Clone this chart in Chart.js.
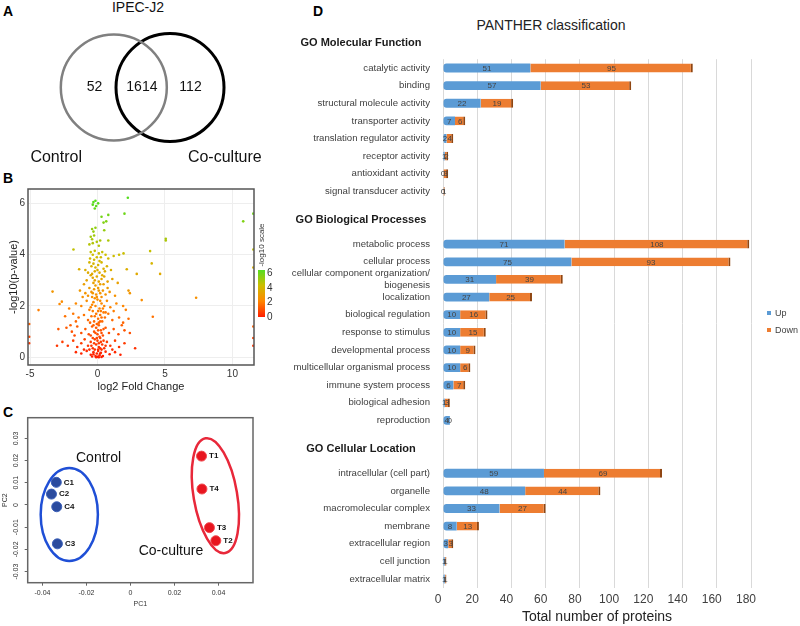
<!DOCTYPE html>
<html><head><meta charset="utf-8">
<script src="https://cdn.jsdelivr.net/npm/chart.js@4.4.1/dist/chart.umd.min.js"></script>
<style>
html,body{margin:0;padding:0;background:#fff;}
body{width:800px;height:626px;position:relative;overflow:hidden;font-family:'Liberation Sans',Arial,Helvetica,sans-serif;}
.abs{position:absolute;}
.letter{position:absolute;font-weight:bold;font-size:14px;color:#000;line-height:14px;}
.txt{position:absolute;white-space:nowrap;}
</style></head><body>

<div class="letter" style="left:3px;top:4px">A</div>
<div class="letter" style="left:3px;top:171px">B</div>
<div class="letter" style="left:3px;top:405px">C</div>
<div class="letter" style="left:313px;top:4px">D</div>

<div class="txt" id="vennTitle" style="left:88px;top:0px;width:100px;text-align:center;font-size:14px;line-height:15px;color:#111"></div>
<div class="txt" id="dTitle" style="left:451px;top:17px;width:200px;text-align:center;font-size:14px;line-height:17px;color:#222"></div>

<div class="abs" style="left:0;top:0;width:290px;height:180px"><canvas id="cA"></canvas></div>
<div class="abs" style="left:0;top:180px;width:290px;height:225px"><canvas id="cB"></canvas></div>
<div class="abs" style="left:0;top:405px;width:290px;height:221px"><canvas id="cC"></canvas></div>
<div class="abs" style="left:290px;top:0;width:510px;height:626px"><canvas id="cD"></canvas></div>

<!-- colour bar of panel B -->
<div class="abs" id="cbar" style="left:258px;top:270px;width:7px;height:47px"></div>
<div class="txt" id="cbarTicks" style="left:267px;top:266px;font-size:10px;line-height:14.5px;color:#333"></div>
<div class="txt" id="cbarTitle" style="left:232px;top:240px;width:60px;text-align:center;font-size:8px;line-height:10px;color:#333;transform:rotate(-90deg)"></div>

<!-- legend of panel D -->
<div class="txt" id="dLegend" style="left:767px;top:304.5px;font-size:9px;line-height:17px;color:#404040"></div>

<script>
// ---------------- DATA ----------------
// Panel A: Venn
const vennTitle = 'IPEC-J2';
const vennSets = ['Control', 'Co-culture'];
const vennCounts = [52, 1614, 112]; // control only, shared, co-culture only

// Panel B: volcano plot  [log2 fold change, -log10(p-value)]
const volcanoPoints = [
 [-0.3,6.05],[-0.15,6.1],[-0.35,5.95],[-0.1,5.9],[0.05,6.0],[-0.2,5.8],[2.25,6.22],
 [0.3,5.48],[0.8,5.55],[0.65,5.3],[0.45,5.25],[2.0,5.6],[-0.4,5.0],[-0.3,4.9],[-0.15,5.05],[0.5,4.95],[10.8,5.3],
 [-0.5,4.7],[-0.4,4.6],[-0.25,4.75],[-0.35,4.45],[0.2,4.55],[0.8,4.55],[-0.6,4.4],[5.06,4.62],[5.06,4.55],[0.1,4.35],[-0.05,4.5],
 [-1.78,4.2],[-0.5,4.1],[-0.35,4.0],[-0.2,4.15],[0.1,4.05],[0.35,4.1],[0.6,4.0],[1.2,3.95],[1.93,4.05],[3.9,4.14],[-0.55,3.85],[0.25,3.9],[0.8,3.85],[1.6,4.0],
 [-0.6,3.7],[-0.45,3.55],[-0.3,3.65],[-0.15,3.5],[0.05,3.6],[0.3,3.7],[0.45,3.45],[0.7,3.55],[1.0,3.4],[-0.9,3.4],[-1.36,3.43],[2.17,3.43],[4.02,3.66],[-0.2,3.35],[0.15,3.3],[0.55,3.35],[-0.7,3.3],
 [2.91,3.25],[4.64,3.25],[-0.5,3.2],[-0.35,3.1],[-0.2,3.0],[-0.05,3.15],[0.1,2.95],[0.3,3.05],[0.5,3.15],[0.75,2.95],[1.1,3.05],[-0.8,3.0],[-1.0,2.85],[0.2,2.85],[-0.3,2.9],[1.5,2.9],
 [-3.33,2.56],[-1.3,2.6],[-0.9,2.5],[-0.6,2.7],[-0.45,2.55],[-0.25,2.65],[-0.1,2.45],[0.05,2.7],[0.2,2.5],[0.4,2.6],[0.6,2.45],[0.9,2.55],[1.3,2.4],[2.3,2.6],[2.4,2.5],[-0.4,2.35],[0.3,2.35],[-1.1,2.35],[3.28,2.23],[7.31,2.32],[-0.7,2.4],[0.75,2.7],
 [-2.64,2.17],[-2.81,2.08],[-4.37,1.84],[-1.6,2.1],[-1.2,2.0],[-0.8,2.2],[-0.5,1.95],[-0.3,2.15],[-0.15,2.0],[0.0,2.25],[0.15,1.9],[0.3,2.1],[0.5,2.0],[0.7,2.2],[0.95,1.95],[1.4,2.1],[1.9,2.0],[2.1,1.85],[-0.6,1.85],[0.25,1.8],[-2.1,1.9],[1.2,1.8],
 [-2.4,1.6],[-1.8,1.7],[-1.4,1.55],[-1.0,1.65],[-0.7,1.45],[-0.45,1.6],[-0.25,1.4],[-0.1,1.7],[0.05,1.5],[0.2,1.65],[0.35,1.4],[0.55,1.55],[0.8,1.7],[1.1,1.45],[1.6,1.55],[2.3,1.5],[4.1,1.58],[-0.55,1.35],[0.1,1.35],[0.45,1.75],[-1.6,1.4],[1.9,1.35],
 [-2.9,1.1],[-2.3,1.15],[-1.9,1.0],[-1.5,1.2],[-1.2,0.95],[-0.9,1.1],[-0.65,0.9],[-0.4,1.2],[-0.25,1.0],[-0.1,1.15],[0.0,0.9],[0.1,1.25],[0.25,1.05],[0.4,0.85],[0.6,1.15],[0.85,0.95],[1.2,1.1],[1.55,0.9],[2.0,1.05],[2.4,0.95],[-0.5,0.85],[0.15,0.8],[-1.7,0.85],[1.8,1.25],[-2.0,1.25],
 [-2.6,0.6],[-2.2,0.45],[-1.8,0.65],[-1.5,0.4],[-1.2,0.55],[-0.95,0.7],[-0.7,0.45],[-0.5,0.6],[-0.35,0.35],[-0.2,0.7],[-0.1,0.5],[0.0,0.65],[0.1,0.4],[0.2,0.75],[0.35,0.5],[0.5,0.35],[0.7,0.6],[0.95,0.45],[1.3,0.65],[1.6,0.4],[2.0,0.55],[2.79,0.35],[-0.6,0.3],[0.3,0.3],[1.1,0.3],[-1.0,0.3],[-3.0,0.45],
 [-1.6,0.2],[-1.2,0.15],[-0.8,0.25],[-0.5,0.1],[-0.3,0.2],[-0.15,0.05],[-0.05,0.15],[0.0,0.02],[0.05,0.25],[0.15,0.08],[0.25,0.18],[0.4,0.05],[0.6,0.22],[0.9,0.12],[1.3,0.2],[1.7,0.1],[-0.1,0.0],[0.1,0.0],[-0.4,0.03],[0.3,0.01],
 [-0.05,3.9],[-0.25,3.8],[0.15,3.75],[-0.4,3.25],[0.0,3.4],[0.35,3.2],[-0.15,2.8],[0.1,2.6],[-0.35,2.5],[0.45,2.85],[-0.05,2.35],[0.2,2.2],[-0.2,2.3],[-0.4,2.05],[0.4,1.9],[0.05,1.8],[-0.2,1.6],[0.3,1.55],[-0.35,1.8],[0.6,1.75],
 [-0.05,1.3],[0.2,1.4],[-0.3,1.25],[0.45,1.1],[-0.15,0.95],[0.3,0.95],[0.05,1.05],[-0.35,0.75],[0.45,0.65],[-0.05,0.75],[0.25,0.6],[-0.25,0.55],[0.1,0.55],[-0.45,0.45],[0.6,0.45],[0.05,0.3],[-0.2,0.3],[0.2,0.35],[-0.3,0.12],[0.2,0.15],
 [-5.06,1.3],[-5.06,0.8],[-5.06,0.55],[11.55,5.6],[11.55,4.2],[11.55,3.5],[11.55,1.2],[11.55,0.75],[11.55,0.45]
];
const volcanoXTicks = [-5, 0, 5, 10];
const volcanoYTicks = [0, 2, 4, 6];
const colorScaleTicks = [6, 4, 2, 0];

// Panel C: PCA
const controlSamples = ['C1', 'C2', 'C4', 'C3'];
const controlPC1 = [-0.0337, -0.0359, -0.0335, -0.0332];
const controlPC2 = [0.0102, 0.0049, -0.0008, -0.0175];
const cocultureSamples = ['T1', 'T4', 'T3', 'T2'];
const coculturePC1 = [0.0323, 0.0325, 0.0359, 0.0388];
const coculturePC2 = [0.0220, 0.0072, -0.0102, -0.0161];
const pcaXTicks = [-0.04, -0.02, 0, 0.02, 0.04];
const pcaYTicks = [0.03, 0.02, 0.01, 0, -0.01, -0.02, -0.03];

// Panel D: PANTHER classification
const pantherTitle = 'PANTHER classification';
const groupNames = ['GO Molecular Function', 'GO Biological Processes', 'GO Cellular Location'];
const mfTerms = ['catalytic activity','binding','structural molecule activity','transporter activity','translation regulator activity','receptor activity','antioxidant activity','signal transducer activity'];
const mfUp   = [51, 57, 22, 7, 2, 1, 0, 0];
const mfDown = [95, 53, 19, 6, 4, 2, 3, 1];
const bpTerms = ['metabolic process','cellular process',['cellular component organization/','biogenesis'],'localization','biological regulation','response to stimulus','developmental process','multicellular organismal process','immune system process','biological adhesion','reproduction'];
const bpUp   = [71, 75, 31, 27, 10, 10, 10, 10, 6, 1, 4];
const bpDown = [108, 93, 39, 25, 16, 15, 9, 6, 7, 3, 0];
const clTerms = ['intracellular (cell part)','organelle','macromolecular complex','membrane','extracellular region','cell junction','extracellular matrix'];
const clUp   = [59, 48, 33, 8, 3, 1, 1];
const clDown = [69, 44, 27, 13, 3, 1, 1];
const seriesNames = ['Up', 'Down'];
const xTicksD = [0, 20, 40, 60, 80, 100, 120, 140, 160, 180];

// ---------------- STYLE ----------------
const UP_COLOR = '#5b9bd5', DOWN_COLOR = '#ed7d31';

Chart.defaults.animation = false;
Chart.defaults.events = [];
Chart.defaults.font.family = "'Liberation Sans', Arial, sans-serif";
Chart.defaults.plugins.legend.display = false;
Chart.defaults.plugins.tooltip.enabled = false;

const framePlugin = {
  id: 'frame',
  afterDatasetsDraw(chart, args, opts) {
    if (!opts || !opts.color) return;
    const {ctx, chartArea: a} = chart;
    ctx.save(); ctx.strokeStyle = opts.color; ctx.lineWidth = opts.width || 1;
    ctx.strokeRect(a.left, a.top, a.right - a.left, a.bottom - a.top);
    ctx.restore();
  }
};

// ---------------- PANEL A ----------------
document.getElementById('vennTitle').textContent = vennTitle;
const vennLayout = {centers: [-1, 1], countX: [-1.69, 0, 1.73], nameX: [-3.05, 2.95], nameY: 2.51};
const vennStyle = {radius: [53, 54], width: [2.5, 3], color: ['#808080', '#000000']};
const vennTextPlugin = {
  id: 'vennText',
  afterDatasetsDraw(chart) {
    const {ctx, scales: {x, y}} = chart;
    ctx.save(); ctx.fillStyle = '#111'; ctx.textAlign = 'center'; ctx.textBaseline = 'middle';
    ctx.font = "14px 'Liberation Sans', Arial, sans-serif";
    vennCounts.forEach((c, i) => ctx.fillText(String(c), x.getPixelForValue(vennLayout.countX[i]), y.getPixelForValue(0)));
    ctx.font = "16px 'Liberation Sans', Arial, sans-serif";
    vennSets.forEach((s, i) => ctx.fillText(s, x.getPixelForValue(vennLayout.nameX[i]), y.getPixelForValue(vennLayout.nameY)));
    ctx.restore();
  }
};
new Chart(document.getElementById('cA'), {
  type: 'scatter',
  data: {datasets: vennSets.map((s, i) => ({
    label: s, data: [{x: vennLayout.centers[i], y: 0}], clip: false,
    pointRadius: vennStyle.radius[i], pointBorderWidth: vennStyle.width[i],
    pointBorderColor: vennStyle.color[i], pointBackgroundColor: 'rgba(0,0,0,0)'
  }))},
  options: {
    responsive: true, maintainAspectRatio: false, layout: {padding: 0, autoPadding: false},
    scales: {
      x: {display: false, min: -5.05, max: 5.27, afterBuildTicks: s => { s.ticks = [{value: -5.05}, {value: 5.27}]; }},
      y: {display: false, min: -3.11, max: 3.296, reverse: true, afterBuildTicks: s => { s.ticks = [{value: -3.11}, {value: 3.296}]; }}
    }
  },
  plugins: [vennTextPlugin]
});

// ---------------- PANEL B ----------------
const cStops = [[0, [255, 30, 0]], [2, [255, 135, 0]], [4, [205, 190, 0]], [6, [85, 220, 30]]];
function volcanoColor(v) {
  v = Math.max(0, Math.min(6, v));
  for (let i = 1; i < cStops.length; i++) {
    if (v <= cStops[i][0]) {
      const t = (v - cStops[i-1][0]) / (cStops[i][0] - cStops[i-1][0]);
      const a = cStops[i-1][1], b = cStops[i][1];
      return `rgb(${a.map((c, k) => Math.round(c + (b[k] - c) * t)).join(',')})`;
    }
  }
  return 'rgb(85,220,30)';
}
document.getElementById('cbar').style.background = 'linear-gradient(to bottom,#55dd22,#cdbe00 33%,#ff8700 66%,#ff1e00)';
document.getElementById('cbarTicks').innerHTML = colorScaleTicks.map(t => `<div>${t}</div>`).join('');
document.getElementById('cbarTitle').textContent = '-log10 scale';

new Chart(document.getElementById('cB'), {
  type: 'scatter',
  data: {datasets: [{
    label: 'proteins',
    data: volcanoPoints.map(p => ({x: p[0], y: p[1]})),
    pointRadius: 1.3, pointBorderWidth: 0,
    pointBackgroundColor: ctx => volcanoColor(ctx.raw ? ctx.raw.y : 0)
  }]},
  options: {
    responsive: true, maintainAspectRatio: false,
    layout: {padding: {top: 8.3, right: 36, left: 0, bottom: 0}, autoPadding: false},
    scales: {
      x: {
        type: 'linear', min: -5.15, max: 11.6,
        afterBuildTicks: s => { s.ticks = volcanoXTicks.map(v => ({value: v})); },
        afterFit: s => { s.height = 40; },
        grid: {color: '#eeeeee', drawTicks: false}, border: {display: false},
        ticks: {font: {size: 10}, color: '#333', padding: 3, maxRotation: 0},
        title: {display: true, text: 'log2 Fold Change', font: {size: 11}, color: '#222', padding: {top: 0, bottom: 11.4}}
      },
      y: {
        type: 'linear', min: -0.3, max: 6.56,
        afterBuildTicks: s => { s.ticks = volcanoYTicks.map(v => ({value: v})); },
        afterFit: s => { s.width = 28; },
        grid: {color: '#eeeeee', drawTicks: false}, border: {display: false},
        ticks: {font: {size: 10}, color: '#333', padding: 3},
        title: {display: true, text: '-log10(p-value)', font: {size: 11}, color: '#222', padding: {top: 7, bottom: 0}}
      }
    },
    plugins: {frame: {color: '#555', width: 1.5}}
  },
  plugins: [framePlugin]
});

// ---------------- PANEL C ----------------
const pcaDecor = {
  ellipses: [
    {cx: -0.0278, cy: -0.0043, rx: 0.0130, ry: 0.0209, rot: 0, color: '#1f4fd6'},
    {cx: 0.0386, cy: 0.0042, rx: 0.0099, ry: 0.0262, rot: -0.17, color: '#e8283a'}
  ],
  groupText: [{text: 'Control', x: -0.0145, y: 0.0211}, {text: 'Co-culture', x: 0.0184, y: -0.0209}]
};
const pcaPlugin = {
  id: 'pcaDecor',
  beforeDatasetsDraw(chart) {
    const {ctx, scales: {x, y}} = chart;
    ctx.save();
    pcaDecor.ellipses.forEach(e => {
      const cx = x.getPixelForValue(e.cx), cy = y.getPixelForValue(e.cy);
      const rx = Math.abs(x.getPixelForValue(e.cx + e.rx) - cx), ry = Math.abs(y.getPixelForValue(e.cy + e.ry) - cy);
      ctx.beginPath(); ctx.ellipse(cx, cy, rx, ry, e.rot, 0, Math.PI * 2);
      ctx.strokeStyle = e.color; ctx.lineWidth = 2.5; ctx.stroke();
    });
    ctx.fillStyle = '#111'; ctx.textAlign = 'center'; ctx.textBaseline = 'middle';
    ctx.font = "14px 'Liberation Sans', Arial, sans-serif";
    pcaDecor.groupText.forEach(t => ctx.fillText(t.text, x.getPixelForValue(t.x), y.getPixelForValue(t.y)));
    ctx.restore();
  },
  afterDatasetsDraw(chart) {
    const {ctx} = chart;
    ctx.save(); ctx.fillStyle = '#111'; ctx.textAlign = 'left'; ctx.textBaseline = 'middle';
    ctx.font = "bold 8px 'Liberation Sans', Arial, sans-serif";
    chart.data.datasets.forEach((ds, di) => {
      chart.getDatasetMeta(di).data.forEach((el, i) => ctx.fillText(ds.sampleNames[i], el.x + 7.5, el.y));
    });
    ctx.restore();
  }
};
new Chart(document.getElementById('cC'), {
  type: 'scatter',
  data: {datasets: [
    {label: 'Control', sampleNames: controlSamples, data: controlPC1.map((v, i) => ({x: v, y: controlPC2[i]})),
     pointRadius: 5, pointBorderWidth: 1, pointBorderColor: '#3a5fb8', pointBackgroundColor: '#2b4b9e'},
    {label: 'Co-culture', sampleNames: cocultureSamples, data: coculturePC1.map((v, i) => ({x: v, y: coculturePC2[i]})),
     pointRadius: 5, pointBorderWidth: 1, pointBorderColor: '#f04a50', pointBackgroundColor: '#e8151f'}
  ]},
  options: {
    responsive: true, maintainAspectRatio: false,
    layout: {padding: {top: 12.7, right: 37, left: 0, bottom: 0}, autoPadding: false},
    scales: {
      x: {
        type: 'linear', min: -0.0467, max: 0.0557,
        afterBuildTicks: s => { s.ticks = pcaXTicks.map(v => ({value: v})); },
        afterFit: s => { s.height = 43.3; },
        grid: {drawOnChartArea: false, tickLength: 3, color: '#666'}, border: {display: false},
        ticks: {font: {size: 7}, color: '#333', padding: 3, maxRotation: 0, callback: v => String(v)},
        title: {display: true, text: 'PC1', font: {size: 7}, color: '#333', padding: {top: 0, bottom: 17.8}}
      },
      y: {
        type: 'linear', min: -0.035, max: 0.0393,
        afterBuildTicks: s => { s.ticks = pcaYTicks.map(v => ({value: v})); },
        afterFit: s => { s.width = 27.7; },
        grid: {drawOnChartArea: false, tickLength: 3, color: '#666'}, border: {display: false},
        ticks: {font: {size: 7}, color: '#333', padding: 0.5, minRotation: 90, maxRotation: 90, crossAlign: 'center', callback: v => String(v)},
        title: {display: true, text: 'PC2', font: {size: 7}, color: '#333', padding: {top: 1.3, bottom: 0}}
      }
    },
    plugins: {frame: {color: '#666', width: 1.5}}
  },
  plugins: [framePlugin, pcaPlugin]
});

// ---------------- PANEL D ----------------
document.getElementById('dTitle').textContent = pantherTitle;
document.getElementById('dLegend').innerHTML = seriesNames.map((n, i) =>
  `<div><span style="display:inline-block;width:4px;height:4px;background:${i ? DOWN_COLOR : UP_COLOR};margin-right:4px;vertical-align:middle"></span>${n}</div>`).join('');

const groups = [
  {terms: mfTerms, up: mfUp, down: mfDown},
  {terms: bpTerms, up: bpUp, down: bpDown},
  {terms: clTerms, up: clUp, down: clDown}
];
const labelsD = [], upD = [], downD = [], headerIdx = [];
groups.forEach((g, gi) => {
  if (gi > 0) {
    labelsD.push(''); upD.push(null); downD.push(null);
    headerIdx.push(labelsD.length);
    labelsD.push(''); upD.push(null); downD.push(null);
  } else {
    headerIdx.push(-1);
  }
  g.terms.forEach((t, i) => { labelsD.push(t); upD.push(g.up[i]); downD.push(g.down[i]); });
});

const headerPlugin = {
  id: 'groupHeaders',
  afterDraw(chart) {
    const {ctx} = chart; const ys = chart.scales.y;
    ctx.save(); ctx.fillStyle = '#1a1a1a'; ctx.textAlign = 'center'; ctx.textBaseline = 'middle';
    ctx.font = "bold 11px 'Liberation Sans', Arial, sans-serif";
    groupNames.forEach((n, i) => ctx.fillText(n, ys.right - 82, ys.getPixelForValue(headerIdx[i]) - 7));
    ctx.restore();
  }
};
const barLabelPlugin = {
  id: 'barLabels',
  afterDatasetsDraw(chart) {
    const {ctx} = chart;
    ctx.save(); ctx.fillStyle = '#444'; ctx.textAlign = 'center'; ctx.textBaseline = 'middle';
    ctx.font = "8px 'Liberation Sans', Arial, sans-serif";
    chart.data.datasets.forEach((ds, di) => {
      chart.getDatasetMeta(di).data.forEach((el, i) => {
        const v = ds.data[i];
        if (v === null || v === undefined) return;
        ctx.fillText(String(v), (el.x + el.base) / 2, el.y + 0.5);
      });
    });
    ctx.restore();
  }
};

new Chart(document.getElementById('cD'), {
  type: 'bar',
  data: {labels: labelsD, datasets: [
    {label: seriesNames[0], data: upD, backgroundColor: UP_COLOR, barPercentage: 0.5, categoryPercentage: 1,
     borderSkipped: false, borderRadius: {topLeft: 3, bottomLeft: 3, topRight: 0, bottomRight: 0}},
    {label: seriesNames[1], data: downD, backgroundColor: DOWN_COLOR, barPercentage: 0.5, categoryPercentage: 1,
     borderColor: '#8f4612', borderWidth: {left: 0, top: 0, bottom: 0, right: 2}}
  ]},
  options: {
    indexAxis: 'y', responsive: true, maintainAspectRatio: false,
    layout: {padding: {top: 59.2, right: 49, left: 0, bottom: 0}, autoPadding: false},
    scales: {
      x: {
        stacked: true, min: 0, max: 180,
        afterBuildTicks: s => { s.ticks = xTicksD.map(v => ({value: v})); },
        afterFit: s => { s.height = 38.2; },
        grid: {color: '#d9d9d9', drawTicks: false}, border: {display: false},
        ticks: {font: {size: 12}, color: '#404040', padding: 5, labelOffset: -5, maxRotation: 0},
        title: {display: true, text: 'Total number of proteins', font: {size: 14}, color: '#222', padding: {top: 0, bottom: 0.6}}
      },
      y: {
        stacked: true,
        afterFit: s => { s.width = 153; },
        grid: {display: false, drawTicks: false}, border: {display: false},
        ticks: {autoSkip: false, font: {size: 9.6}, color: '#404040', padding: 13}
      }
    }
  },
  plugins: [barLabelPlugin, headerPlugin]
});
</script>
</body></html>
